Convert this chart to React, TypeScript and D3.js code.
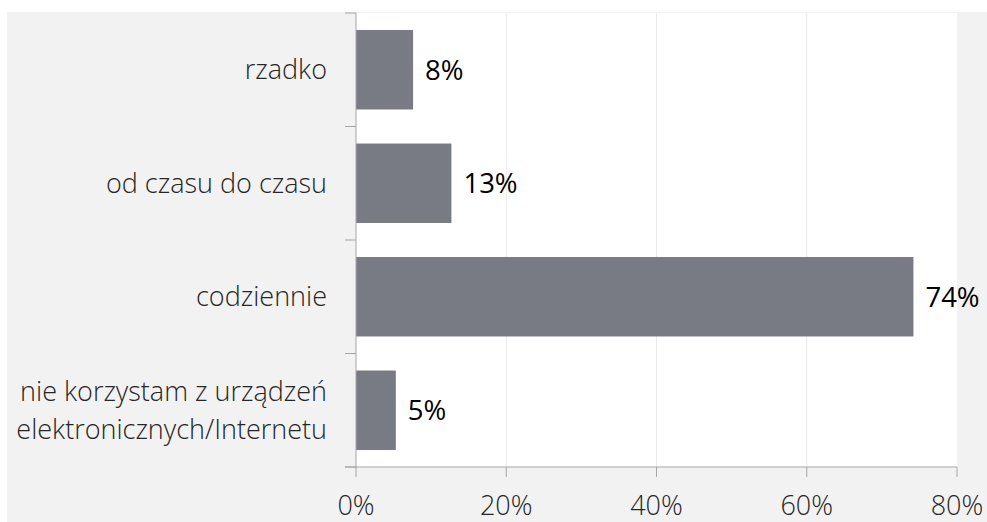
import * as React from 'react';
import * as d3 from 'd3';

// chart values
const categories = [
  ['rzadko'],
  ['od czasu do czasu'],
  ['codziennie'],
  ['nie korzystam z urządzeń', 'elektronicznych/Internetu'],
];
const values = [7.6, 12.7, 74.2, 5.3];
const xTicks = [0, 20, 40, 60, 80];

const W = 987;
const H = 522;

const App = () => {
  const left = 356;
  const right = 957;
  const top = 13;
  const bottom = 467;

  const x = d3.scaleLinear().domain([0, 80]).range([left, right]);
  const y = d3.scaleBand<number>()
    .domain(d3.range(categories.length))
    .range([top, bottom])
    .paddingInner(0.3)
    .paddingOuter(0.15);

  const bandEdges = d3.range(categories.length + 1).map(i => top + i * ((bottom - top) / categories.length));

  const font = '"Open Sans", sans-serif';

  return (
    <div style={{ position: 'fixed', left: 0, top: 0 }}>
      <svg width={W} height={H} style={{ display: 'block' }}>
        <rect x={7} y={12} width={W - 7} height={H - 12} fill="#f2f2f2" />
        <rect x={left} y={top} width={right - left} height={bottom - top} fill="#ffffff" />

        {xTicks.slice(1, -1).map(t => (
          <line key={'g' + t} x1={x(t)} x2={x(t)} y1={top} y2={bottom} stroke="#e9e9e9" strokeWidth={1} />
        ))}

        {values.map((v, i) => (
          <rect key={'b' + i} x={x(0)} y={y(i)} width={x(v) - x(0)} height={y.bandwidth()} fill="#787b84" />
        ))}

        {values.map((v, i) => (
          <text key={'v' + i} x={x(v) + 12} y={(y(i) as number) + y.bandwidth() / 2} dy="0.36em"
            fontFamily={font} fontSize={27.5} fill="#000000">
            {Math.round(v) + '%'}
          </text>
        ))}

        {/* y axis */}
        <line x1={left} x2={left} y1={top} y2={bottom} stroke="#a6a6a6" strokeWidth={1} />
        {bandEdges.map((e, i) => (
          <line key={'yt' + i} x1={left - 11} x2={left} y1={e} y2={e} stroke="#a6a6a6" strokeWidth={1} />
        ))}

        {/* x axis */}
        <line x1={left - 11} x2={right} y1={bottom} y2={bottom} stroke="#a6a6a6" strokeWidth={1} />
        {xTicks.map(t => (
          <g key={'xt' + t}>
            <line x1={x(t)} x2={x(t)} y1={bottom} y2={bottom + 10} stroke="#a6a6a6" strokeWidth={1} />
            <text x={x(t)} y={515} textAnchor="middle" fontFamily={font} fontWeight={300} fontSize={27} fill="#262626">
              {t + '%'}
            </text>
          </g>
        ))}

        {categories.map((lines, i) => {
          const c = (y(i) as number) + y.bandwidth() / 2;
          const lh = 38;
          const start = c - ((lines.length - 1) * lh) / 2;
          return (
            <text key={'c' + i} textAnchor="end" fontFamily={font} fontWeight={300} fontSize={27} fill="#262626">
              {lines.map((l, j) => (
                <tspan key={j} x={327} y={start + j * lh} dy="0.36em">{l}</tspan>
              ))}
            </text>
          );
        })}
      </svg>
    </div>
  );
};

export default App;
